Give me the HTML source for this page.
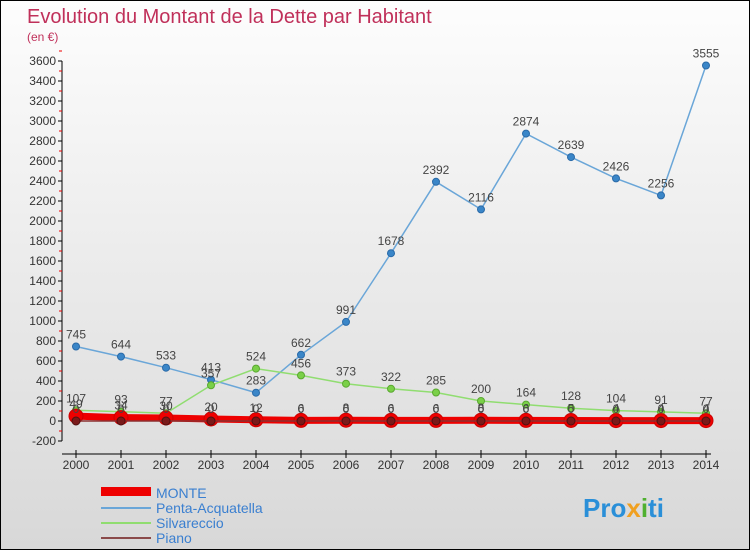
<!DOCTYPE html>
<html><head><meta charset="utf-8"><style>
body{margin:0}
#wrap{width:748px;height:548px;border:1px solid #000;background:linear-gradient(#fdfdfd,#d8d8d8);position:relative;overflow:hidden;font-family:"Liberation Sans",sans-serif}
</style></head><body>
<div id="wrap">
<svg id="svg" width="748" height="548" xmlns="http://www.w3.org/2000/svg">
<text x="26" y="22" font-size="20" fill="#c0305a">Evolution du Montant de la Dette par Habitant</text>
<text x="26" y="40" font-size="12" fill="#c0305a">(en €)</text>
<g id="axes"></g><g id="marks"></g>
<g>
<rect x="100" y="486" width="50" height="9" fill="#e00"/>
<text x="155" y="497" font-size="14" fill="#3a7fd0">MONTE</text>
<line x1="100" y1="507" x2="150" y2="507" stroke="#6aa6d8" stroke-width="2"/>
<text x="155" y="512" font-size="14" fill="#3a7fd0">Penta-Acquatella</text>
<line x1="100" y1="522" x2="150" y2="522" stroke="#90dd70" stroke-width="2"/>
<text x="155" y="527" font-size="14" fill="#3a7fd0">Silvareccio</text>
<line x1="100" y1="537" x2="150" y2="537" stroke="#8a4a4a" stroke-width="2"/>
<text x="155" y="542" font-size="14" fill="#3a7fd0">Piano</text>
</g>
<text x="582" y="516" font-size="26" font-weight="bold" fill="#2a8fd8">Pro<tspan fill="#f0a020">x</tspan><tspan fill="#50b030">i</tspan>ti</text>
</svg></div>
<script>
const years=[2000,2001,2002,2003,2004,2005,2006,2007,2008,2009,2010,2011,2012,2013,2014];
const monte=[49,34,30,20,12,6,8,6,6,8,6,5,4,4,4];
const penta=[745,644,533,413,283,662,991,1678,2392,2116,2874,2639,2426,2256,3555];
const silva=[107,93,77,357,524,456,373,322,285,200,164,128,104,91,77];
const piano=[0,0,0,0,0,0,0,0,0,0,0,0,0,0,0];
const yTicks=[-200,0,200,400,600,800,1000,1200,1400,1600,1800,2000,2200,2400,2600,2800,3000,3200,3400,3600];
const NS="http://www.w3.org/2000/svg";
const X=i=>75+i*45, Y=v=>420-v*0.1;
function mk(tag,at,p){const e=document.createElementNS(NS,tag);for(const k in at)e.setAttribute(k,at[k]);p.appendChild(e);return e;}
const ax=document.getElementById('axes'),mg=document.getElementById('marks');
let a=mk('line',{x1:61,y1:Y(3600),x2:61,y2:Y(-200),stroke:'#000'},ax);


a=mk('line',{x1:61,y1:453,x2:710,y2:453,stroke:'#000'},ax);


yTicks.forEach(v=>{mk('line',{x1:57,y1:Y(v),x2:61,y2:Y(v),stroke:'#000'},ax);
 mk('line',{x1:58,y1:Y(v+100),x2:61,y2:Y(v+100),stroke:'#e00'},ax);
 const t=mk('text',{x:55,y:Y(v)+4,'font-size':12,'text-anchor':'end',fill:'#333'},ax);t.textContent=v;
 
 });
years.forEach((y,i)=>{mk('line',{x1:X(i),y1:449,x2:X(i),y2:457,stroke:'#000'},ax);
 const t=mk('text',{x:X(i),y:468,'font-size':12,'text-anchor':'middle',fill:'#333'},ax);t.textContent=y;
 
 });
function series(d,name,col,w,r,fill,stroke,lab){
 const l=mk('polyline',{points:d.map((v,i)=>X(i)+','+Y(v)).join(' '),fill:'none',stroke:col,'stroke-width':w},mg);
 
 
 d.forEach((v,i)=>{const c=mk('circle',{cx:X(i),cy:Y(v),r:r,fill:fill,stroke:stroke,'stroke-width':1},mg);
  
  
  if(lab){const t=mk('text',{x:X(i),y:Y(v)-8,'font-size':12,'text-anchor':'middle',fill:'#444'},mg);t.textContent=v;
  
  }});
}
series(penta,'penta','#6aa6d8',1.5,3.5,'#3a86c8','#2a6aa8',true);
series(silva,'silvareccio','#90dd70',1.5,3.5,'#7ad048','#5aa830',true);
series(monte,'monte','#e00',7,7,'#e00','#c00',true);
series(piano,'piano','#8a3030',1.5,4,'#7a1a1a','#501010',true);
</script>
</body></html>
